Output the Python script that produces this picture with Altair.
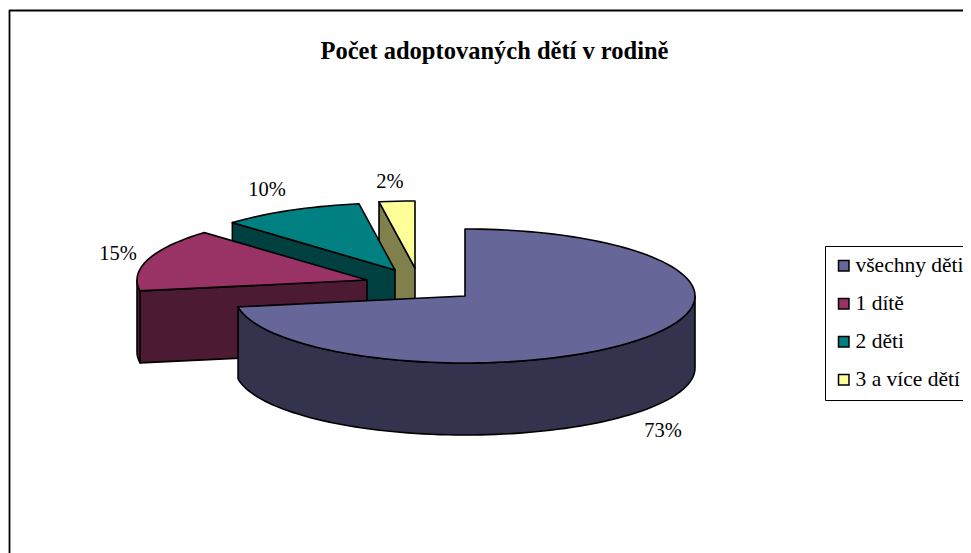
import math
import altair as alt

TITLE = "Počet adoptovaných dětí v rodině"
categories = ["všechny děti", "1 dítě", "2 děti", "3 a více dětí"]
shares = [72.4, 15.1, 10.0, 2.5]
labels = ["73%", "15%", "10%", "2%"]
top_colors = ["#666699", "#993366", "#008080", "#FFFF99"]
side_colors = ["#33334D", "#4D1A33", "#004040", "#80804D"]

# layout, in page pixels
CENTRES = [(465, 296), (367, 280), (395, 270), (415, 268)]
LABEL_POS = [(663, 431), (118, 254), (267, 190), (390, 182)]
RX, RY, DEPTH = 230, 67, 72
W, H = 955, 545


def pt(c, deg, dz=0):
    a = math.radians(deg)
    return [c[0] + RX * math.sin(a), c[1] - RY * math.cos(a) + dz]


def arc(c, a0, a1, dz=0, step=2.0):
    n = max(2, int(abs(a1 - a0) / step) + 1)
    return [pt(c, a0 + (a1 - a0) * i / (n - 1), dz) for i in range(n)]


def feature(ring, cat=""):
    ring = list(ring) + [ring[0]]
    return {"type": "Feature", "properties": {"cat": cat},
            "geometry": {"type": "Polygon", "coordinates": [ring]}}


projection = alt.Projection(type="identity", scale=1, translate=[-8, -8])
color = alt.Color(
    "properties.cat:N",
    scale=alt.Scale(domain=categories, range=top_colors),
    legend=alt.Legend(
        title=None, orient="none", legendX=817, legendY=238, direction="vertical",
        fillColor="white", strokeColor="black", padding=9,
        symbolType="square", symbolSize=110, symbolStrokeColor="black",
        symbolStrokeWidth=1.5, symbolOpacity=1, symbolOffset=-1,
        labelFont="Liberation Serif", labelFontSize=21.5, labelColor="black",
        labelLimit=300, labelOffset=1, rowPadding=15, values=categories,
    ),
)


def poly(ring, fill=None, cat="", sw=1.6):
    base = alt.Chart(alt.InlineData(values=[feature(ring, cat)])).mark_geoshape(
        stroke="black", strokeWidth=sw, strokeJoin="round")
    if fill is None:
        return base.encode(color=color).project(**projection.to_dict())
    return base.encode(color=alt.value(fill)).project(**projection.to_dict())


# slice angles, clockwise from 12 o'clock
angles = []
acc = 0.0
for s in shares:
    angles.append((acc * 3.6, (acc + s) * 3.6))
    acc += s

layers = [
    poly([[9.5, 10.5], [1100, 10.5], [1100, 700], [9.5, 700]], fill="white", sw=1.8)
]

# draw back to front: last slice first
for i in [3, 2, 1, 0]:
    c = CENTRES[i]
    a0, a1 = angles[i]
    # radial wall that faces the viewer (slices left of the main one)
    if i > 0:
        p = pt(c, a0)
        layers.append(poly([p, list(c), [c[0], c[1] + DEPTH], [p[0], p[1] + DEPTH]], fill=side_colors[i]))
    # outer rim where it is on the near half of the ellipse
    lo, hi = max(a0, 90), min(a1, 270)
    if lo < hi:
        layers.append(poly(arc(c, lo, hi) + arc(c, hi, lo, DEPTH), fill=side_colors[i]))
    layers.append(poly(arc(c, a0, a1) + [list(c)], cat=categories[i]))

label_rows = [{"t": t, "lon": p[0], "lat": p[1]} for t, p in zip(labels, LABEL_POS)]
text = alt.Chart(alt.InlineData(values=label_rows)).mark_text(
    font="Liberation Serif", fontSize=20.5, color="black", align="center", baseline="middle"
).encode(longitude="lon:Q", latitude="lat:Q", text="t:N").project(**projection.to_dict())
layers.append(text)

chart = alt.layer(*layers).properties(
    width=W, height=H, padding=0, autosize=alt.AutoSizeParams(type="none"),
    title=alt.TitleParams(
        TITLE, font="Liberation Serif", fontSize=24.5, fontWeight="bold", color="black",
        anchor="middle", dx=9, dy=75, offset=0, baseline="alphabetic",
    ),
).configure_view(stroke=None)

chart.save("out.html", embed_options={"renderer": "svg", "actions": False})
